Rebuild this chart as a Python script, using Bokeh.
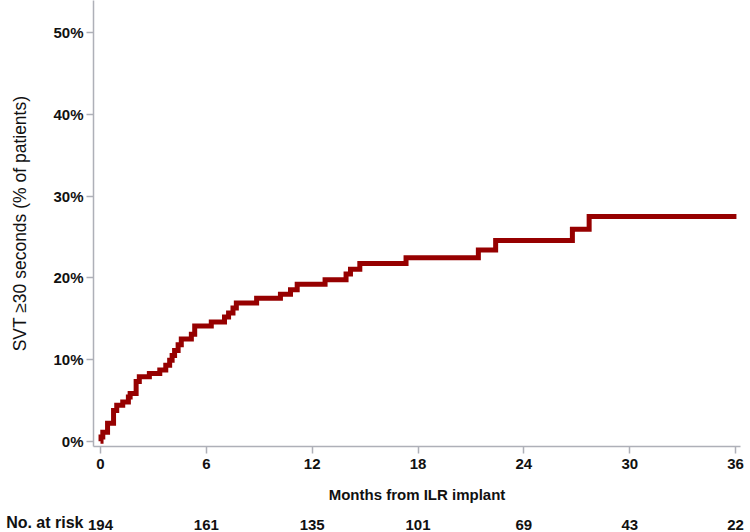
from bokeh.plotting import figure
from bokeh.layouts import column
from bokeh.models import FixedTicker, PrintfTickFormatter, Range1d
from bokeh.embed import file_html
from bokeh.resources import INLINE

# Kaplan-Meier style cumulative incidence (months, % of patients)
months = [0, 0.03, 0.13, 0.4, 0.74, 0.92, 1.26, 1.58, 1.68, 2.02, 2.2, 2.77, 3.36, 3.7,
          3.92, 4.06, 4.2, 4.4, 4.58, 5.15, 5.34, 6.28, 7.03, 7.26, 7.51, 7.7, 8.85,
          10.2, 10.77, 11.15, 12.73, 13.92, 14.17, 14.7, 17.32, 21.42, 22.4, 26.75,
          27.7, 36.05]
pct = [0.0, 0.5, 1.1, 2.2, 3.75, 4.4, 4.8, 5.4, 5.85, 7.3, 7.9, 8.3, 8.7, 9.3,
       9.9, 10.5, 11.1, 11.8, 12.5, 13.1, 14.1, 14.6, 15.2, 15.7, 16.3, 16.9, 17.5,
       18.0, 18.55, 19.2, 19.75, 20.45, 21.05, 21.75, 22.45, 23.4, 24.55, 25.95,
       27.5, 27.5]

x_ticks = [0, 6, 12, 18, 24, 30, 36]
at_risk = [194, 161, 135, 101, 69, 43, 22]
risk_title = "No. at risk"
y_ticks = [0, 10, 20, 30, 40, 50]

FONT = "Liberation Sans"
AXIS_COL = "#aeb0b8"
TXT = "#111111"

p = figure(width=750, height=509, output_backend="svg", toolbar_location=None,
           x_range=Range1d(-0.397, 36.28), y_range=Range1d(-0.65, 53.94),
           min_border_left=93, min_border_right=10, min_border_top=0,
           min_border_bottom=63)

p.step(months, pct, mode="after", line_color="#960000", line_width=5,
       line_join="miter")

p.grid.visible = False
p.outline_line_color = None

for ax in (p.xaxis[0], p.yaxis[0]):
    ax.axis_line_color = AXIS_COL
    ax.axis_line_width = 1.5
    ax.major_tick_line_color = AXIS_COL
    ax.major_tick_line_width = 1.5
    ax.major_tick_out = 7
    ax.major_tick_in = 0
    ax.minor_tick_line_color = None
    ax.major_label_text_font = FONT
    ax.major_label_text_font_style = "bold"
    ax.major_label_text_font_size = "15px"
    ax.major_label_text_color = TXT
    ax.axis_label_text_font = FONT
    ax.axis_label_text_color = TXT

p.xaxis[0].ticker = FixedTicker(ticks=x_ticks)
p.xaxis[0].major_label_standoff = 5
p.xaxis[0].axis_label = "Months from ILR implant"
p.xaxis[0].axis_label_standoff = 14
p.xaxis[0].axis_label_text_font_size = "15px"
p.xaxis[0].axis_label_text_font_style = "bold"

p.yaxis[0].ticker = FixedTicker(ticks=y_ticks)
p.yaxis[0].formatter = PrintfTickFormatter(format="%d%%")
p.yaxis[0].major_label_standoff = 3
p.yaxis[0].axis_label = "SVT \u226530 seconds (% of patients)"
p.yaxis[0].axis_label_standoff = 20
p.yaxis[0].axis_label_text_font_size = "17.5px"
p.yaxis[0].axis_label_text_font_style = "normal"

# Risk table row: its own small plot sharing the x range of the main plot.
# Numbers are tick labels of its x axis, the row title a tick label of its y axis.
r = figure(width=750, height=23, output_backend="svg", toolbar_location=None,
           x_range=p.x_range, y_range=Range1d(-0.01, 1),
           min_border_left=93, min_border_right=10, min_border_top=0,
           min_border_bottom=0)
r.grid.visible = False
r.outline_line_color = None

rx = r.xaxis[0]
rx.ticker = FixedTicker(ticks=x_ticks)
rx.major_label_overrides = {t: str(n) for t, n in zip(x_ticks, at_risk)}
ry = r.yaxis[0]
ry.ticker = FixedTicker(ticks=[0])
ry.major_label_overrides = {0: risk_title}
for ax in (rx, ry):
    ax.axis_line_color = None
    ax.major_tick_line_color = None
    ax.minor_tick_line_color = None
    ax.major_tick_out = 0
    ax.major_tick_in = 0
    ax.minor_tick_out = 0
    ax.minor_tick_in = 0
    ax.major_label_text_font = FONT
    ax.major_label_text_font_style = "bold"
    ax.major_label_text_color = TXT
rx.major_label_standoff = -6
rx.major_label_text_font_size = "15px"
ry.major_label_standoff = 10
ry.major_label_text_font_size = "16px"

layout = column(p, r, spacing=0)
open("out.html", "w").write(file_html(layout, INLINE))
